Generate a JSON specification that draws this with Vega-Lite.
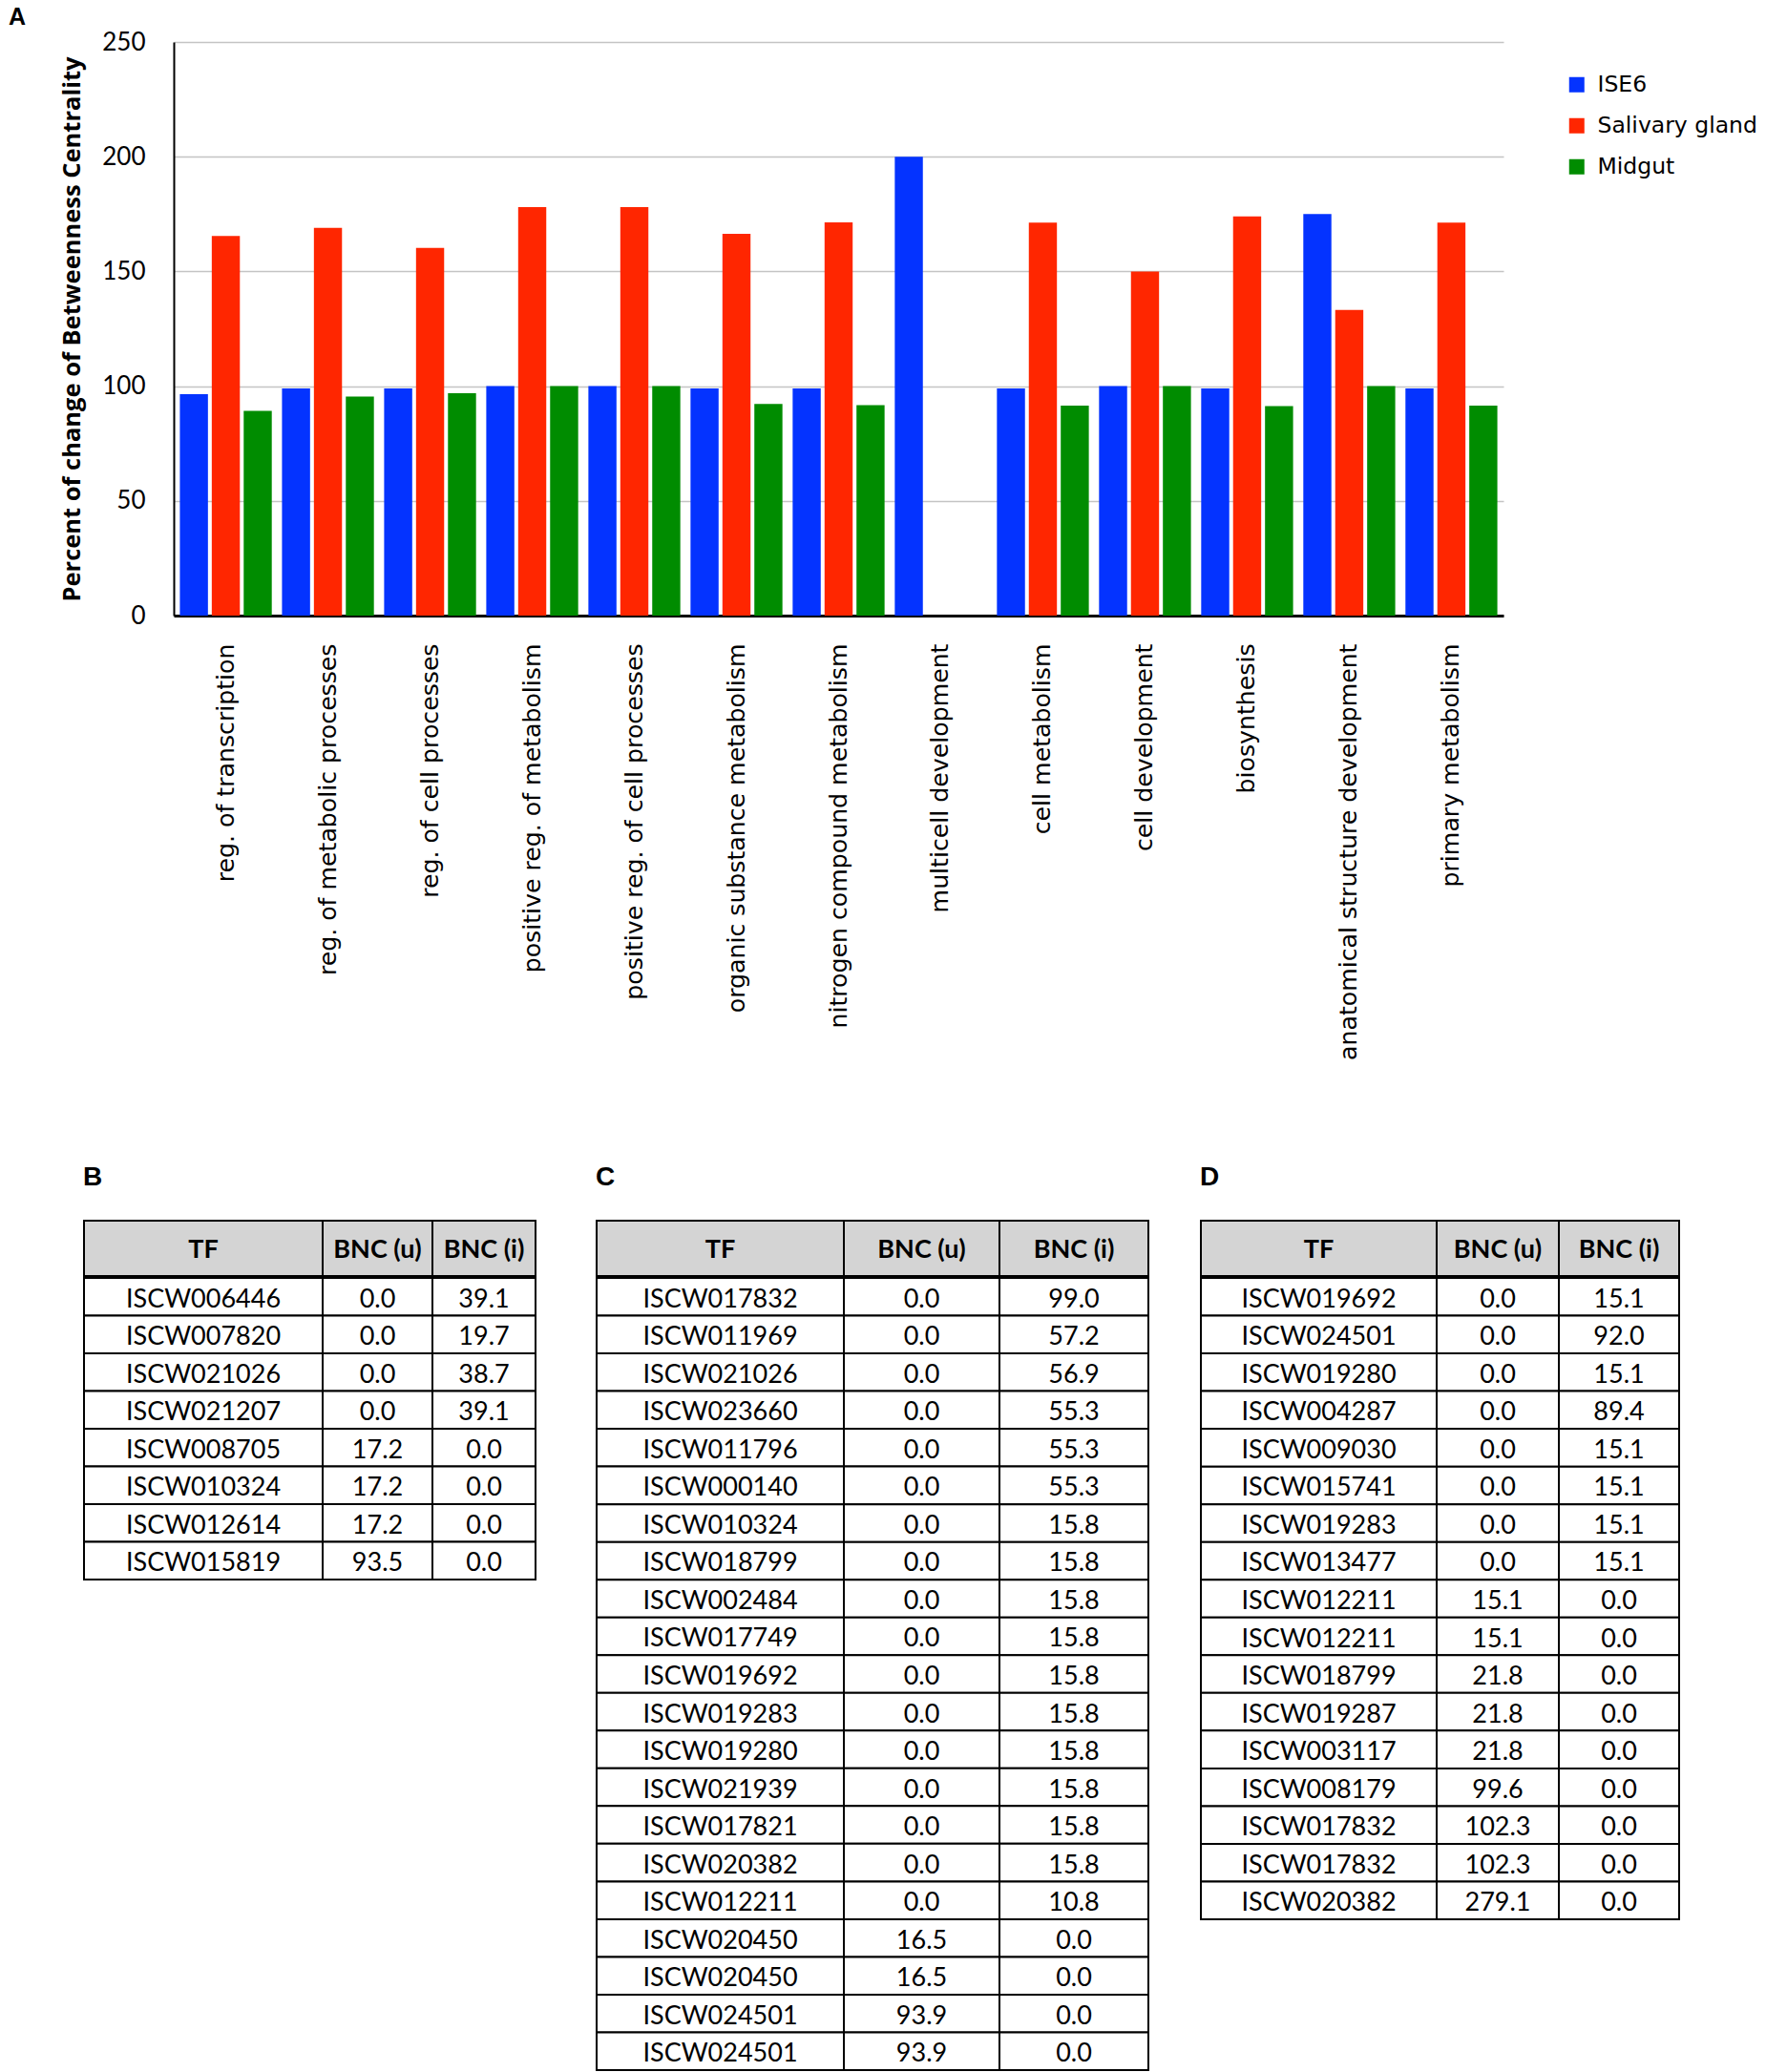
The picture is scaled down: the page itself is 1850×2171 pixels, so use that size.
{
"$schema":"https://vega.github.io/schema/vega-lite/v6.json",
"background":"white",
"padding":{"left":9,"top":6,"right":5,"bottom":0},
"title":{"text":"A","anchor":"start","dx":-53,"font":"Liberation Sans","fontSize":25,"fontWeight":"bold","color":"black","offset":0},
"config":{"view":{"stroke":null},"font":"Lato","text":{"color":"black"}},
"datasets":{
"bars":[
{"cat":"reg. of transcription","series":"ISE6","value":96.5},{"cat":"reg. of transcription","series":"Salivary gland","value":165.5},{"cat":"reg. of transcription","series":"Midgut","value":89.2},
{"cat":"reg. of metabolic processes","series":"ISE6","value":99},{"cat":"reg. of metabolic processes","series":"Salivary gland","value":169},{"cat":"reg. of metabolic processes","series":"Midgut","value":95.5},
{"cat":"reg. of cell processes","series":"ISE6","value":99},{"cat":"reg. of cell processes","series":"Salivary gland","value":160.3},{"cat":"reg. of cell processes","series":"Midgut","value":96.9},
{"cat":"positive reg. of metabolism","series":"ISE6","value":100},{"cat":"positive reg. of metabolism","series":"Salivary gland","value":178},{"cat":"positive reg. of metabolism","series":"Midgut","value":100},
{"cat":"positive reg. of cell processes","series":"ISE6","value":100},{"cat":"positive reg. of cell processes","series":"Salivary gland","value":178},{"cat":"positive reg. of cell processes","series":"Midgut","value":100},
{"cat":"organic substance metabolism","series":"ISE6","value":99},{"cat":"organic substance metabolism","series":"Salivary gland","value":166.4},{"cat":"organic substance metabolism","series":"Midgut","value":92.2},
{"cat":"nitrogen compound metabolism","series":"ISE6","value":99},{"cat":"nitrogen compound metabolism","series":"Salivary gland","value":171.4},{"cat":"nitrogen compound metabolism","series":"Midgut","value":91.7},
{"cat":"multicell development","series":"ISE6","value":200},
{"cat":"cell metabolism","series":"ISE6","value":99},{"cat":"cell metabolism","series":"Salivary gland","value":171.3},{"cat":"cell metabolism","series":"Midgut","value":91.5},
{"cat":"cell development","series":"ISE6","value":100},{"cat":"cell development","series":"Salivary gland","value":150},{"cat":"cell development","series":"Midgut","value":100},
{"cat":"biosynthesis","series":"ISE6","value":99},{"cat":"biosynthesis","series":"Salivary gland","value":174},{"cat":"biosynthesis","series":"Midgut","value":91.3},
{"cat":"anatomical structure development","series":"ISE6","value":175},{"cat":"anatomical structure development","series":"Salivary gland","value":133.2},{"cat":"anatomical structure development","series":"Midgut","value":100},
{"cat":"primary metabolism","series":"ISE6","value":99},{"cat":"primary metabolism","series":"Salivary gland","value":171.3},{"cat":"primary metabolism","series":"Midgut","value":91.5}
],
"hdr":[{"col":"TF"},{"col":"BNC (u)"},{"col":"BNC (i)"}],
"tB":[
{"r":1,"tf":"ISCW006446","u":0.0,"i":39.1},{"r":2,"tf":"ISCW007820","u":0.0,"i":19.7},{"r":3,"tf":"ISCW021026","u":0.0,"i":38.7},{"r":4,"tf":"ISCW021207","u":0.0,"i":39.1},
{"r":5,"tf":"ISCW008705","u":17.2,"i":0.0},{"r":6,"tf":"ISCW010324","u":17.2,"i":0.0},{"r":7,"tf":"ISCW012614","u":17.2,"i":0.0},{"r":8,"tf":"ISCW015819","u":93.5,"i":0.0}
],
"tC":[
{"r":1,"tf":"ISCW017832","u":0.0,"i":99.0},{"r":2,"tf":"ISCW011969","u":0.0,"i":57.2},{"r":3,"tf":"ISCW021026","u":0.0,"i":56.9},{"r":4,"tf":"ISCW023660","u":0.0,"i":55.3},
{"r":5,"tf":"ISCW011796","u":0.0,"i":55.3},{"r":6,"tf":"ISCW000140","u":0.0,"i":55.3},{"r":7,"tf":"ISCW010324","u":0.0,"i":15.8},{"r":8,"tf":"ISCW018799","u":0.0,"i":15.8},
{"r":9,"tf":"ISCW002484","u":0.0,"i":15.8},{"r":10,"tf":"ISCW017749","u":0.0,"i":15.8},{"r":11,"tf":"ISCW019692","u":0.0,"i":15.8},{"r":12,"tf":"ISCW019283","u":0.0,"i":15.8},
{"r":13,"tf":"ISCW019280","u":0.0,"i":15.8},{"r":14,"tf":"ISCW021939","u":0.0,"i":15.8},{"r":15,"tf":"ISCW017821","u":0.0,"i":15.8},{"r":16,"tf":"ISCW020382","u":0.0,"i":15.8},
{"r":17,"tf":"ISCW012211","u":0.0,"i":10.8},{"r":18,"tf":"ISCW020450","u":16.5,"i":0.0},{"r":19,"tf":"ISCW020450","u":16.5,"i":0.0},{"r":20,"tf":"ISCW024501","u":93.9,"i":0.0},
{"r":21,"tf":"ISCW024501","u":93.9,"i":0.0}
],
"tD":[
{"r":1,"tf":"ISCW019692","u":0.0,"i":15.1},{"r":2,"tf":"ISCW024501","u":0.0,"i":92.0},{"r":3,"tf":"ISCW019280","u":0.0,"i":15.1},{"r":4,"tf":"ISCW004287","u":0.0,"i":89.4},
{"r":5,"tf":"ISCW009030","u":0.0,"i":15.1},{"r":6,"tf":"ISCW015741","u":0.0,"i":15.1},{"r":7,"tf":"ISCW019283","u":0.0,"i":15.1},{"r":8,"tf":"ISCW013477","u":0.0,"i":15.1},
{"r":9,"tf":"ISCW012211","u":15.1,"i":0.0},{"r":10,"tf":"ISCW012211","u":15.1,"i":0.0},{"r":11,"tf":"ISCW018799","u":21.8,"i":0.0},{"r":12,"tf":"ISCW019287","u":21.8,"i":0.0},
{"r":13,"tf":"ISCW003117","u":21.8,"i":0.0},{"r":14,"tf":"ISCW008179","u":99.6,"i":0.0},{"r":15,"tf":"ISCW017832","u":102.3,"i":0.0},{"r":16,"tf":"ISCW017832","u":102.3,"i":0.0},
{"r":17,"tf":"ISCW020382","u":279.1,"i":0.0}
]
},
"spacing":109,
"vconcat":[
{"spacing":0,"hconcat":[
{"width":1,"height":1,"data":{"values":[]},"mark":"point"},
{
"width":1393,"height":601,
"data":{"name":"bars"},
"mark":{"type":"bar"},
"encoding":{
"x":{"field":"cat","type":"nominal","sort":null,"scale":{"paddingInner":0.1,"paddingOuter":0.06},
"axis":{"title":null,"labelAngle":-90,"labelFont":"DejaVu Sans","labelFontSize":25.2,"labelColor":"black","labelPadding":29,"ticks":false,"tickSize":0,"domainColor":"black","domainWidth":3,"labelLimit":700}},
"xOffset":{"field":"series","type":"nominal","scale":{"domain":["ISE6","Salivary gland","Midgut"],"paddingInner":0.12,"paddingOuter":0}},
"y":{"field":"value","type":"quantitative","scale":{"domain":[0,250]},
"axis":{"values":[0,50,100,150,200,250],"title":"Percent of change of Betweenness Centrality","titleFont":"Open Sans","titleFontSize":25.5,"titleFontWeight":"bold","titleColor":"black","titlePadding":18,"labelFont":"Lato","labelFontSize":26,"labelColor":"black","labelPadding":30,"ticks":false,"tickSize":0,"domainColor":"black","domainWidth":2,"gridColor":"#c4c4c4","gridWidth":1.5}},
"color":{"field":"series","type":"nominal","scale":{"domain":["ISE6","Salivary gland","Midgut"],"range":["#0433ff","#ff2600","#008c00"]},
"legend":{"title":null,"orient":"none","legendX":1578,"legendY":33,"padding":0,"symbolType":"square","symbolSize":256,"symbolStrokeWidth":0,"symbolOpacity":1,"labelFont":"DejaVu Sans","labelFontSize":23.5,"labelColor":"black","labelLimit":400,"rowPadding":18,"labelOffset":10}}
}
}
]},
{"spacing":24,"hconcat":[
{"width":1,"height":1,"data":{"values":[]},"mark":"point"},
{
"spacing":62,
"hconcat":[
{
"title":{"text":"B","anchor":"start","font":"Liberation Sans","fontSize":28,"fontWeight":"bold","color":"black","offset":30},
"spacing":0,
"vconcat":[
{"spacing":0,"bounds":"flush","hconcat":[
{"width":250,"height":58,"data":{"name":"hdr"},"transform":[{"filter":"datum.col==='TF'"}],"layer":[{"mark":{"type":"rect","fill":"#d4d4d4","stroke":"black","strokeWidth":2},"encoding":{}},{"mark":{"type":"text","font":"Lato","fontSize":27,"fontWeight":"bold","color":"black","dy":2},"encoding":{"text":{"field":"col","type":"nominal"}}}]},
{"width":115,"height":58,"data":{"name":"hdr"},"transform":[{"filter":"datum.col==='BNC (u)'"}],"layer":[{"mark":{"type":"rect","fill":"#d4d4d4","stroke":"black","strokeWidth":2},"encoding":{}},{"mark":{"type":"text","font":"Lato","fontSize":27,"fontWeight":"bold","color":"black","dy":2},"encoding":{"text":{"field":"col","type":"nominal"}}}]},
{"width":108,"height":58,"data":{"name":"hdr"},"transform":[{"filter":"datum.col==='BNC (i)'"}],"layer":[{"mark":{"type":"rect","fill":"#d4d4d4","stroke":"black","strokeWidth":2},"encoding":{}},{"mark":{"type":"text","font":"Lato","fontSize":27,"fontWeight":"bold","color":"black","dy":2},"encoding":{"text":{"field":"col","type":"nominal"}}}]}
]},
{"spacing":0,"bounds":"flush","hconcat":[
{"width":250,"height":316,"data":{"name":"tB"},"encoding":{"y":{"field":"r","type":"ordinal","scale":{"paddingInner":0,"paddingOuter":0},"axis":null}},"layer":[{"mark":{"type":"rect","fill":"white","stroke":"black","strokeWidth":2}},{"mark":{"type":"text","font":"Lato","fontSize":27,"color":"black","dy":3},"encoding":{"text":{"field":"tf","type":"nominal"}}}]},
{"width":115,"height":316,"data":{"name":"tB"},"encoding":{"y":{"field":"r","type":"ordinal","scale":{"paddingInner":0,"paddingOuter":0},"axis":null}},"layer":[{"mark":{"type":"rect","fill":"white","stroke":"black","strokeWidth":2}},{"mark":{"type":"text","font":"Lato","fontSize":27,"color":"black","dy":3},"encoding":{"text":{"field":"u","type":"quantitative","format":".1f"}}}]},
{"width":108,"height":316,"data":{"name":"tB"},"encoding":{"y":{"field":"r","type":"ordinal","scale":{"paddingInner":0,"paddingOuter":0},"axis":null}},"layer":[{"mark":{"type":"rect","fill":"white","stroke":"black","strokeWidth":2}},{"mark":{"type":"text","font":"Lato","fontSize":27,"color":"black","dy":3},"encoding":{"text":{"field":"i","type":"quantitative","format":".1f"}}}]}
]}
]
},
{
"spacing":53,
"hconcat":[
{
"title":{"text":"C","anchor":"start","font":"Liberation Sans","fontSize":28,"fontWeight":"bold","color":"black","offset":30},
"spacing":0,
"vconcat":[
{"spacing":0,"bounds":"flush","hconcat":[
{"width":259,"height":58,"data":{"name":"hdr"},"transform":[{"filter":"datum.col==='TF'"}],"layer":[{"mark":{"type":"rect","fill":"#d4d4d4","stroke":"black","strokeWidth":2},"encoding":{}},{"mark":{"type":"text","font":"Lato","fontSize":27,"fontWeight":"bold","color":"black","dy":2},"encoding":{"text":{"field":"col","type":"nominal"}}}]},
{"width":163,"height":58,"data":{"name":"hdr"},"transform":[{"filter":"datum.col==='BNC (u)'"}],"layer":[{"mark":{"type":"rect","fill":"#d4d4d4","stroke":"black","strokeWidth":2},"encoding":{}},{"mark":{"type":"text","font":"Lato","fontSize":27,"fontWeight":"bold","color":"black","dy":2},"encoding":{"text":{"field":"col","type":"nominal"}}}]},
{"width":156,"height":58,"data":{"name":"hdr"},"transform":[{"filter":"datum.col==='BNC (i)'"}],"layer":[{"mark":{"type":"rect","fill":"#d4d4d4","stroke":"black","strokeWidth":2},"encoding":{}},{"mark":{"type":"text","font":"Lato","fontSize":27,"fontWeight":"bold","color":"black","dy":2},"encoding":{"text":{"field":"col","type":"nominal"}}}]}
]},
{"spacing":0,"bounds":"flush","hconcat":[
{"width":259,"height":830,"data":{"name":"tC"},"encoding":{"y":{"field":"r","type":"ordinal","scale":{"paddingInner":0,"paddingOuter":0},"axis":null}},"layer":[{"mark":{"type":"rect","fill":"white","stroke":"black","strokeWidth":2}},{"mark":{"type":"text","font":"Lato","fontSize":27,"color":"black","dy":3},"encoding":{"text":{"field":"tf","type":"nominal"}}}]},
{"width":163,"height":830,"data":{"name":"tC"},"encoding":{"y":{"field":"r","type":"ordinal","scale":{"paddingInner":0,"paddingOuter":0},"axis":null}},"layer":[{"mark":{"type":"rect","fill":"white","stroke":"black","strokeWidth":2}},{"mark":{"type":"text","font":"Lato","fontSize":27,"color":"black","dy":3},"encoding":{"text":{"field":"u","type":"quantitative","format":".1f"}}}]},
{"width":156,"height":830,"data":{"name":"tC"},"encoding":{"y":{"field":"r","type":"ordinal","scale":{"paddingInner":0,"paddingOuter":0},"axis":null}},"layer":[{"mark":{"type":"rect","fill":"white","stroke":"black","strokeWidth":2}},{"mark":{"type":"text","font":"Lato","fontSize":27,"color":"black","dy":3},"encoding":{"text":{"field":"i","type":"quantitative","format":".1f"}}}]}
]}
]
},
{
"title":{"text":"D","anchor":"start","font":"Liberation Sans","fontSize":28,"fontWeight":"bold","color":"black","offset":30},
"spacing":0,
"vconcat":[
{"spacing":0,"bounds":"flush","hconcat":[
{"width":247,"height":58,"data":{"name":"hdr"},"transform":[{"filter":"datum.col==='TF'"}],"layer":[{"mark":{"type":"rect","fill":"#d4d4d4","stroke":"black","strokeWidth":2},"encoding":{}},{"mark":{"type":"text","font":"Lato","fontSize":27,"fontWeight":"bold","color":"black","dy":2},"encoding":{"text":{"field":"col","type":"nominal"}}}]},
{"width":128,"height":58,"data":{"name":"hdr"},"transform":[{"filter":"datum.col==='BNC (u)'"}],"layer":[{"mark":{"type":"rect","fill":"#d4d4d4","stroke":"black","strokeWidth":2},"encoding":{}},{"mark":{"type":"text","font":"Lato","fontSize":27,"fontWeight":"bold","color":"black","dy":2},"encoding":{"text":{"field":"col","type":"nominal"}}}]},
{"width":126,"height":58,"data":{"name":"hdr"},"transform":[{"filter":"datum.col==='BNC (i)'"}],"layer":[{"mark":{"type":"rect","fill":"#d4d4d4","stroke":"black","strokeWidth":2},"encoding":{}},{"mark":{"type":"text","font":"Lato","fontSize":27,"fontWeight":"bold","color":"black","dy":2},"encoding":{"text":{"field":"col","type":"nominal"}}}]}
]},
{"spacing":0,"bounds":"flush","hconcat":[
{"width":247,"height":672,"data":{"name":"tD"},"encoding":{"y":{"field":"r","type":"ordinal","scale":{"paddingInner":0,"paddingOuter":0},"axis":null}},"layer":[{"mark":{"type":"rect","fill":"white","stroke":"black","strokeWidth":2}},{"mark":{"type":"text","font":"Lato","fontSize":27,"color":"black","dy":3},"encoding":{"text":{"field":"tf","type":"nominal"}}}]},
{"width":128,"height":672,"data":{"name":"tD"},"encoding":{"y":{"field":"r","type":"ordinal","scale":{"paddingInner":0,"paddingOuter":0},"axis":null}},"layer":[{"mark":{"type":"rect","fill":"white","stroke":"black","strokeWidth":2}},{"mark":{"type":"text","font":"Lato","fontSize":27,"color":"black","dy":3},"encoding":{"text":{"field":"u","type":"quantitative","format":".1f"}}}]},
{"width":126,"height":672,"data":{"name":"tD"},"encoding":{"y":{"field":"r","type":"ordinal","scale":{"paddingInner":0,"paddingOuter":0},"axis":null}},"layer":[{"mark":{"type":"rect","fill":"white","stroke":"black","strokeWidth":2}},{"mark":{"type":"text","font":"Lato","fontSize":27,"color":"black","dy":3},"encoding":{"text":{"field":"i","type":"quantitative","format":".1f"}}}]}
]}
]
}
]
}
]
}
]}
]
}
